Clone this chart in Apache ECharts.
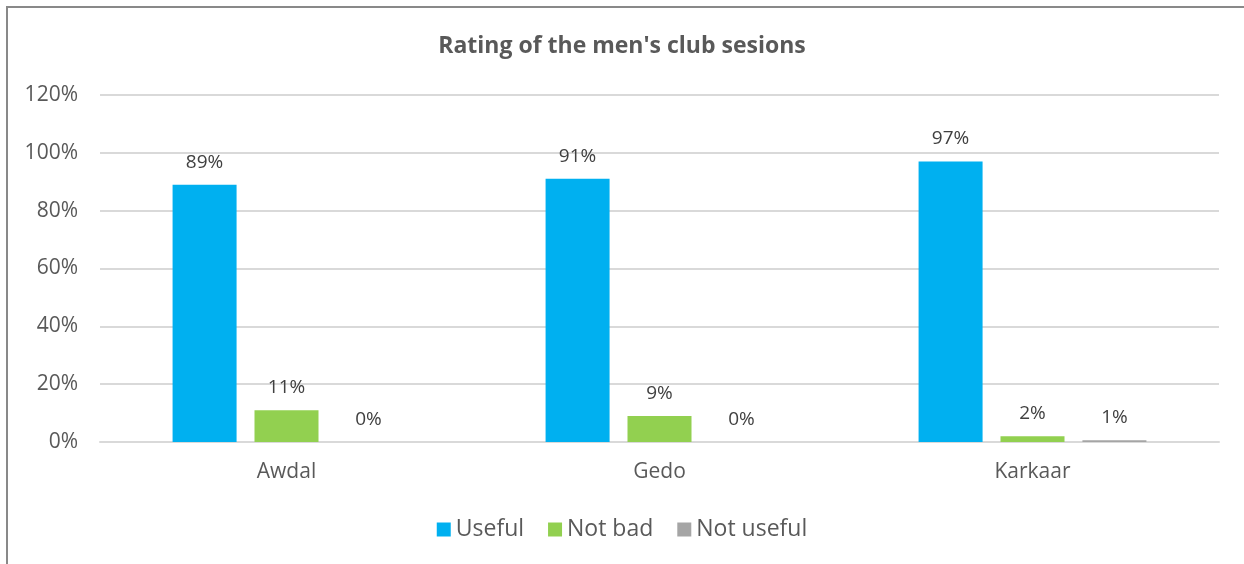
<!DOCTYPE html>
<html>
<head>
<meta charset="utf-8">
<script src="https://cdn.jsdelivr.net/npm/echarts@6/dist/echarts.min.js"></script>
<style>
html,body{margin:0;padding:0;background:#fff;}
#frame{position:absolute;left:6px;top:6px;width:1260px;height:600px;border-left:2px solid #898989;border-top:2px solid #898989;box-sizing:border-box;}
#chart{position:absolute;left:0;top:0;width:1244px;height:564px;}
</style>
</head>
<body>
<div id="frame"></div>
<div id="chart"></div>
<script>
const categories = ['Awdal', 'Gedo', 'Karkaar'];
const seriesNames = ['Useful', 'Not bad', 'Not useful'];
const useful = [89, 91, 97];
const notBad = [11, 9, 2];
const notUseful = [0, 0, 0.6];
const yTicks = [0, 20, 40, 60, 80, 100, 120];
const colors = ['#00B0F0', '#92D050', '#A5A5A5'];

const font = '"Open Sans", "Noto Sans", sans-serif';
const chart = echarts.init(document.getElementById('chart'));
const values = [useful, notBad, notUseful];
chart.setOption({
  animation: false,
  title: {
    text: "Rating of the men's club sesions",
    left: 'center', top: 30,
    textStyle: {fontFamily: font, fontSize: 23, fontWeight: 'bold', color: '#595959'}
  },
  legend: {
    bottom: 18, left: 'center', itemWidth: 14, itemHeight: 14, itemGap: 24,
    icon: 'rect',
    textStyle: {fontFamily: font, fontSize: 23, color: '#595959'},
    data: seriesNames
  },
  grid: {left: 100, right: 25, top: 95, bottom: 122},
  xAxis: {
    type: 'category', data: categories,
    axisLine: {lineStyle: {color: '#D9D9D9', width: 2}},
    axisTick: {show: false},
    axisLabel: {fontFamily: font, fontSize: 21, color: '#595959', margin: 20}
  },
  yAxis: {
    type: 'value', min: yTicks[0], max: yTicks[yTicks.length - 1], interval: 20,
    axisLine: {show: false}, axisTick: {show: false},
    splitLine: {lineStyle: {color: '#D9D9D9', width: 2}},
    axisLabel: {fontFamily: font, fontSize: 21, color: '#595959', margin: 22, formatter: v => v + '%'}
  },
  series: seriesNames.map((n, i) => ({
    name: n, type: 'bar', data: values[i],
    barWidth: 64, barGap: '28%',
    itemStyle: {color: colors[i]},
    label: {
      show: true, position: 'top', distance: 13,
      fontFamily: font, fontSize: 19, color: '#404040',
      formatter: p => Math.round(p.value) + '%'
    }
  }))
});
</script>
</body>
</html>
